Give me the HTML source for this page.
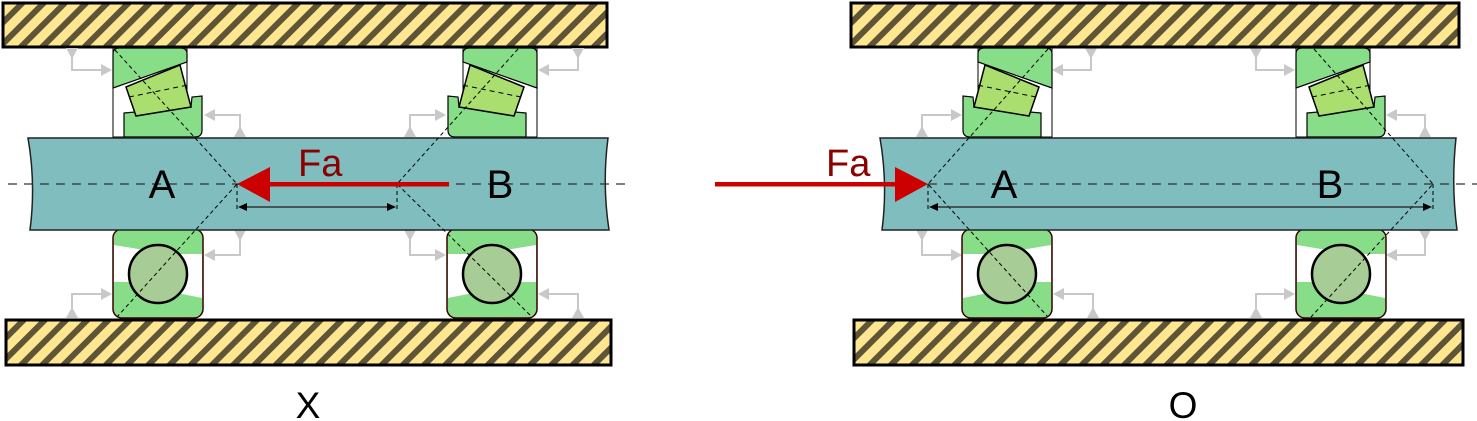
<!DOCTYPE html>
<html><head><meta charset="utf-8"><style>
html,body{margin:0;padding:0;background:#fff;width:1477px;height:421px;overflow:hidden}
svg{display:block;font-family:"Liberation Sans",sans-serif}
</style></head><body>
<svg id="s" width="1477" height="421" viewBox="0 0 1477 421" xmlns="http://www.w3.org/2000/svg">
<defs>
<pattern id="hatch" patternUnits="userSpaceOnUse" width="15" height="15" patternTransform="rotate(45)">
<rect width="15" height="15" fill="#ffe690"/><rect width="6" height="15" fill="#5e5436"/>
</pattern>
<g id="taper">
<rect x="113" y="48" width="74" height="89" fill="#fff" stroke="#000" stroke-width="1"/>
<path d="M113,54 Q113,48 119,48 L181,48 Q187,48 187,54 L187,62 L113,88 Z" fill="#88dd88" stroke="#000" stroke-width="1.2"/>
<path d="M124,113 L191,107 L192,97 L202,96 L202,130 Q202,137 195,137 L124,137 Z" fill="#88dd88" stroke="#000" stroke-width="1.2"/>
<polygon points="126,87 180,65 191,107 136,116" fill="#aade6e" stroke="#000" stroke-width="1.5"/>
<line x1="129" y1="97" x2="188" y2="85" stroke="#000" stroke-dasharray="5,4"/>
</g>
<g id="ball">
<rect x="113" y="229" width="90" height="89" rx="9" fill="#88dd88" stroke="#3a0000" stroke-width="1.5"/>
<polygon points="114,245 150,251 150,282 114,282" fill="#fff"/>
<polygon points="167,254 202,254 202,298 167,291" fill="#fff"/>
<circle cx="158" cy="274" r="29" fill="#a8cc96" stroke="#000" stroke-width="2.5"/>
</g>
</defs>

<!-- X arrangement -->
<rect x="3" y="3" width="604" height="44" fill="url(#hatch)" stroke="#000" stroke-width="3"/>
<rect x="6" y="320" width="605" height="45" fill="url(#hatch)" stroke="#000" stroke-width="3"/>
<use href="#taper"/>
<use href="#taper" transform="translate(650,0) scale(-1,1)"/>
<use href="#ball"/>
<use href="#ball" transform="translate(650,0) scale(-1,1)"/>
<path d="M28,138 L608,138 Q602,184 609,230 L30,230 Q36,184 28,138 Z" fill="#7fbdbf" stroke="#222" stroke-width="1.5"/>
<line x1="8" y1="184" x2="627" y2="184" stroke="#333" stroke-width="1.2" stroke-dasharray="9,7"/>
<g stroke="#000" stroke-width="1" stroke-dasharray="4,3" fill="none">
<polyline points="115,50 237,184 117,317"/>
<polyline points="518,49 397,184 532,317"/>
<line x1="237" y1="184" x2="237" y2="212"/><line x1="397" y1="184" x2="397" y2="212"/>
</g>
<g>
<line x1="246" y1="207" x2="388" y2="207" stroke="#333" stroke-width="1.5"/>
<polygon points="238,207 247,203 247,211" fill="#000"/><polygon points="396,207 387,203 387,211" fill="#000"/>
</g>
<g>
<rect x="268" y="182" width="181" height="4.5" fill="#cc0000"/>
<polygon points="237,184 270,167 270,202" fill="#cc0000"/>
</g>
<text x="298" y="176" font-size="38" fill="#8b0000">Fa</text>
<text x="162" y="198" font-size="40" text-anchor="middle">A</text>
<text x="500" y="198" font-size="40" text-anchor="middle">B</text>
<text x="308" y="418" font-size="37" text-anchor="middle">X</text>

<!-- O arrangement -->
<rect x="851" y="3" width="608" height="44" fill="url(#hatch)" stroke="#000" stroke-width="3"/>
<rect x="854" y="320" width="609" height="45" fill="url(#hatch)" stroke="#000" stroke-width="3"/>
<use href="#taper" transform="translate(1165,0) scale(-1,1)"/>
<use href="#taper" transform="translate(1183,0)"/>
<use href="#ball" transform="translate(1165,0) scale(-1,1)"/>
<use href="#ball" transform="translate(1183,0)"/>
<path d="M880,138 L1456,138 Q1451,184 1457,230 L882,230 Q888,184 880,138 Z" fill="#7fbdbf" stroke="#222" stroke-width="1.5"/>
<line x1="928" y1="184" x2="1477" y2="184" stroke="#333" stroke-width="1.2" stroke-dasharray="9,7"/>
<g stroke="#000" stroke-width="1" stroke-dasharray="4,3" fill="none">
<polyline points="1048,49 928,184 1048,317"/>
<polyline points="1314,49 1433,184 1311,317"/>
<line x1="928" y1="184" x2="928" y2="212"/><line x1="1433" y1="184" x2="1433" y2="212"/>
</g>
<g>
<line x1="937" y1="207" x2="1424" y2="207" stroke="#333" stroke-width="1.5"/>
<polygon points="929,207 938,203 938,211" fill="#000"/><polygon points="1432,207 1423,203 1423,211" fill="#000"/>
</g>
<g>
<rect x="715" y="182" width="182" height="4.5" fill="#cc0000"/>
<polygon points="928,184 895,167 895,202" fill="#cc0000"/>
</g>
<text x="826" y="176" font-size="38" fill="#8b0000">Fa</text>
<text x="1004" y="198" font-size="40" text-anchor="middle">A</text>
<text x="1330" y="198" font-size="40" text-anchor="middle">B</text>
<text x="1183" y="418" font-size="37" text-anchor="middle">O</text>
</svg>
<script>
var svg=document.getElementById('s');
var NS='http://www.w3.org/2000/svg';
// elbow arrows: [vertical x, surface y, elbow y, head x]
var elbows=[[72,48,70,112],[240,137,115,204],[240,230,255,204],[72,318,294,112],
[578,48,70,538],[410,137,115,446],[410,230,255,446],[578,318,294,538],
[1091,48,70,1052],[922,137,115,962],[922,230,255,962],[1093,318,294,1053],
[1256,48,70,1295],[1425,137,115,1386],[1425,230,255,1386],[1256,318,294,1295]];
elbows.forEach(function(e){
  var x=e[0],ys=e[1],ye=e[2],hx=e[3];
  var dv=ye>ys?1:-1, dh=hx>x?1:-1;
  var g=document.createElementNS(NS,'g');
  
  
  var p=document.createElementNS(NS,'polyline');
  p.setAttribute('points',x+','+(ys+dv*8)+' '+x+','+ye+' '+(hx-dh*9)+','+ye);
  p.setAttribute('fill','none');p.setAttribute('stroke','#c8c8c8');p.setAttribute('stroke-width','2');
  var t=document.createElementNS(NS,'polygon');
  t.setAttribute('points',(x-6)+','+ys+' '+(x+6)+','+ys+' '+x+','+(ys+dv*11));
  t.setAttribute('fill','#c8c8c8');
  var h=document.createElementNS(NS,'polygon');
  h.setAttribute('points',hx+','+ye+' '+(hx-dh*11)+','+(ye-6)+' '+(hx-dh*11)+','+(ye+6));
  h.setAttribute('fill','#c8c8c8');
  g.appendChild(p);g.appendChild(t);g.appendChild(h);
  svg.insertBefore(g,svg.querySelector('use'));
});
</script>
</body></html>
